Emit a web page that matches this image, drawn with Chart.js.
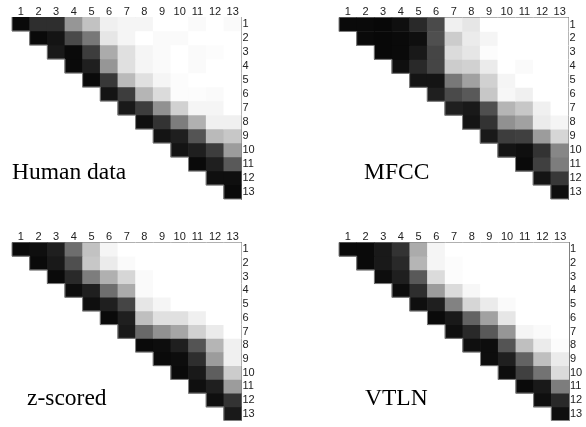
<!DOCTYPE html>
<html>
<head>
<meta charset="utf-8">
<script src="https://cdn.jsdelivr.net/npm/chart.js@4.4.0/dist/chart.umd.min.js"></script>
<style>
  body { margin: 0; background: #fff; }
  canvas { position: absolute; }
</style>
</head>
<body>
<canvas id="c-human" width="290" height="210" style="left:0;top:0"></canvas>
<canvas id="c-mfcc" width="296" height="210" style="left:290px;top:0"></canvas>
<canvas id="c-zscored" width="290" height="202" style="left:0;top:225px"></canvas>
<canvas id="c-vtln" width="296" height="202" style="left:290px;top:225px"></canvas>
<script>
// rótulos das linhas/colunas (1..13)
const labels = ['1','2','3','4','5','6','7','8','9','10','11','12','13'];

// similaridade (0 = branco, 1 = preto), cada linha começa na diagonal
const humanData = [
  [0.96,0.82,0.82,0.41,0.24,0.06,0.04,0.04,0,0,0.02,0,0.02],
  [0.96,0.92,0.71,0.53,0.10,0.04,0,0.02,0.02,0,0,0],
  [0.90,0.96,0.76,0.33,0.12,0.04,0.02,0,0.02,0.01,0],
  [0.96,0.88,0.41,0.12,0.04,0.02,0,0.02,0,0],
  [0.96,0.78,0.27,0.12,0.04,0.01,0,0,0],
  [0.92,0.76,0.29,0.14,0.01,0.01,0.02,0],
  [0.90,0.76,0.43,0.18,0.04,0.04,0],
  [0.94,0.80,0.51,0.31,0.06,0.06],
  [0.92,0.88,0.67,0.27,0.22],
  [0.92,0.88,0.76,0.39],
  [0.96,0.88,0.65],
  [0.94,0.94],
  [0.96]
];
const mfccData = [
  [0.96,0.96,0.97,0.94,0.84,0.71,0.06,0.10,0,0,0,0,0],
  [0.96,0.97,0.96,0.94,0.69,0.20,0.08,0.04,0,0,0,0],
  [0.97,0.96,0.90,0.73,0.14,0.10,0.01,0,0,0,0],
  [0.94,0.84,0.73,0.20,0.18,0.08,0,0.02,0,0],
  [0.92,0.92,0.53,0.37,0.18,0.04,0,0,0],
  [0.88,0.71,0.65,0.22,0.03,0.06,0,0],
  [0.88,0.90,0.69,0.29,0.22,0.06,0],
  [0.92,0.80,0.43,0.37,0.08,0.04],
  [0.90,0.76,0.75,0.39,0.16],
  [0.92,0.94,0.80,0.47],
  [0.96,0.75,0.51],
  [0.92,0.78],
  [0.94]
];
const zscoredData = [
  [0.96,0.94,0.88,0.57,0.24,0.04,0,0,0,0,0,0,0],
  [0.96,0.90,0.69,0.22,0.08,0.02,0,0,0,0,0,0],
  [0.96,0.84,0.51,0.31,0.16,0.02,0,0,0,0,0],
  [0.95,0.88,0.57,0.33,0.02,0,0,0,0,0],
  [0.94,0.88,0.73,0.10,0.04,0,0,0,0],
  [0.96,0.88,0.25,0.12,0.12,0.06,0,0],
  [0.90,0.59,0.43,0.35,0.18,0.08,0],
  [0.96,0.95,0.88,0.67,0.29,0.06],
  [0.96,0.95,0.82,0.39,0.06],
  [0.96,0.90,0.63,0.20],
  [0.94,0.88,0.39],
  [0.94,0.80],
  [0.90]
];
const vtlnData = [
  [0.96,0.96,0.90,0.80,0.33,0.04,0,0,0,0,0,0,0],
  [0.96,0.90,0.84,0.29,0.04,0.01,0,0,0,0,0,0],
  [0.95,0.88,0.65,0.14,0.01,0,0,0,0,0,0],
  [0.95,0.82,0.39,0.14,0.03,0,0,0,0,0],
  [0.94,0.88,0.49,0.16,0.08,0.02,0,0,0],
  [0.96,0.90,0.61,0.37,0.10,0,0,0],
  [0.94,0.84,0.65,0.41,0.04,0.02,0],
  [0.94,0.95,0.67,0.25,0.08,0.01],
  [0.95,0.88,0.61,0.25,0.08],
  [0.95,0.75,0.55,0.14],
  [0.96,0.90,0.51],
  [0.94,0.84],
  [0.94]
];

function cinza(v) {
  const g = Math.round(255 * (1 - v));
  return 'rgb(' + g + ',' + g + ',' + g + ')';
}

// contorno em escada + nome do painel
const escada = {
  id: 'escada',
  afterDatasetsDraw(chart, args, opts) {
    const x = chart.scales.x, y = chart.scales.y, ctx = chart.ctx;
    const w = (x.right - x.left) / labels.length;
    ctx.save();
    ctx.strokeStyle = '#808080';
    ctx.lineWidth = 1;
    ctx.beginPath();
    labels.forEach((l, i) => {
      const left = x.getPixelForValue(i) - w / 2;
      ctx.moveTo(left, y.getPixelForValue(i));
      ctx.lineTo(left, y.getPixelForValue(i + 1));
      ctx.lineTo(left + w, y.getPixelForValue(i + 1));
    });
    ctx.stroke();
    ctx.font = '23.5px "Liberation Serif", "Times New Roman", serif';
    ctx.fillStyle = '#000';
    ctx.textBaseline = 'alphabetic';
    ctx.fillText(opts.text, opts.x, opts.y);
    ctx.restore();
  }
};

function renderPainel(id, matriz, nome, pad, topo, nomeX, nomeY) {
  const datasets = matriz.map((linha, r) => ({
    data: labels.map((l, c) => c >= r ? [r, r + 1] : null),
    backgroundColor: labels.map((l, c) => c >= r ? cinza(linha[c - r]) : 'rgba(0,0,0,0)'),
    borderWidth: 0,
    barPercentage: 1,
    categoryPercentage: 1,
    grouped: false
  }));
  const fonte = { family: '"Liberation Sans", Arial, sans-serif', size: 11, lineHeight: 1 };
  new Chart(document.getElementById(id), {
    type: 'bar',
    data: { labels: labels, datasets: datasets },
    plugins: [escada],
    options: {
      responsive: false,
      animation: false,
      devicePixelRatio: 1,
      layout: { padding: pad },
      plugins: {
        legend: { display: false },
        tooltip: { enabled: false },
        escada: { text: nome, x: nomeX, y: nomeY }
      },
      scales: {
        x: {
          position: 'top',
          grid: { display: false, drawTicks: false },
          border: { display: true, color: '#808080', width: 1 },
          ticks: { color: '#222', font: fonte, padding: 0, maxRotation: 0, autoSkip: false },
          afterFit: s => { s.height = topo; }
        },
        y: {
          position: 'right',
          min: 0,
          max: 13,
          reverse: true,
          grid: { display: false, drawTicks: false },
          border: { display: true, color: '#808080', width: 1 },
          afterBuildTicks: s => { s.ticks = labels.map((l, i) => ({ value: i + 0.5 })); },
          ticks: { color: '#222', font: fonte, padding: 1, autoSkip: false,
                   callback: (v, i) => labels[i] },
          afterFit: s => { s.width = 16; }
        }
      }
    }
  });
}

renderPainel('c-human', humanData, 'Human data', { left: 12, top: 0, right: 32.5, bottom: 11 }, 17, 12, 179);
renderPainel('c-mfcc', mfccData, 'MFCC', { left: 49, top: 0, right: 1.5, bottom: 11 }, 17.5, 74, 179);
renderPainel('c-zscored', zscoredData, 'z-scored', { left: 12, top: 0, right: 32.5, bottom: 3 }, 17.5, 27, 180);
renderPainel('c-vtln', vtlnData, 'VTLN', { left: 49, top: 0, right: 1, bottom: 3 }, 17.5, 75, 180);
</script>
</body>
</html>
